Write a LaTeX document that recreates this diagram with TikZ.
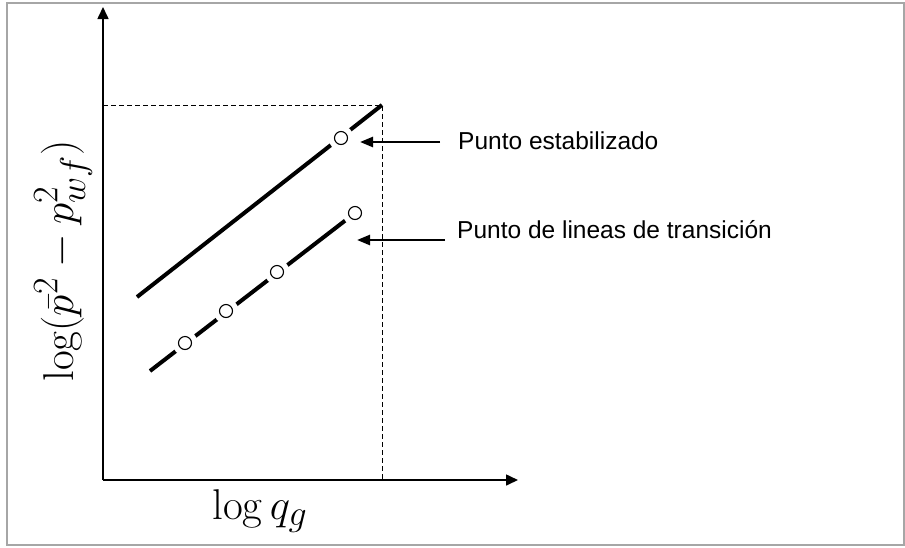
\documentclass[tikz,border=0pt]{standalone}
\usepackage{fontspec}
\newfontfamily\labelfont{Liberation Sans}
\usetikzlibrary{arrows.meta}
\begin{document}
\begin{tikzpicture}[x=1pt,y=-1pt,
	axis/.style={line width=1.6pt,-{Triangle[length=12pt,width=11pt]}},
	guide/.style={line width=0.9pt,dash pattern=on 5pt off 3pt},
	fitline/.style={line width=4pt},
	pointer/.style={line width=2.4pt,-{Triangle[length=13pt,width=10pt]}},
	datum/.style={circle,draw,fill=white,line width=1.1pt,minimum size=13pt,inner sep=0pt,
		preaction={draw=white,line width=12pt}},
	caption/.style={font=\labelfont\fontsize{24.5}{29}\selectfont,anchor=base west,inner sep=0pt},
	axlabel/.style={font=\Huge,scale=1.73,anchor=base,inner sep=0pt}]
			\useasboundingbox(0,0)rectangle(905,547);
			\draw[gray!70,line width=1.2pt](7,3)rectangle(904,545);
			% axes
			\coordinate(o)at(103,480);
			\coordinate(ytip)at(103,7);
			\coordinate(xtip)at(518,480);
			\draw[axis](o)--(ytip);
			\draw[axis](o)--(xtip);
			% dashed guides
			\coordinate(yc)at(103,105);
			\coordinate(c)at(382,105);
			\coordinate(xc)at(382,480);
			\draw[guide](yc)--(c)--(xc);
			% stabilized line
			\coordinate(s1)at(137,297);
			\draw[fitline](s1)--(c);
			\node[datum](p1)at(341,138){};
			% transient line
			\coordinate(s2)at(150,371);
			\coordinate(e2)at(355,213);
			\draw[fitline](s2)--(e2);
			\foreach \x/\y [count=\i] in {185/343,226/311,277/272,355/213}
				\node[datum](q\i)at(\x,\y){};
			% labels
			\node[caption](l1)at(458,149){Punto estabilizado};
			\node[caption](l2)at(457,238){Punto de lineas de transición};
			\coordinate(a1)at(440,142);
			\coordinate(t1)at(360,142);
			\coordinate(a2)at(445,240);
			\coordinate(t2)at(357,240);
			\draw[pointer](a1)--(t1);
			\draw[pointer](a2)--(t2);
			\node[axlabel,rotate=90](ylab)at(73,261){$\log(\bar{p}^2-p_{wf}^2)$};
			\node[axlabel](xlab)at(260,519){$\log q_g$};
		\end{tikzpicture}
\end{document}
